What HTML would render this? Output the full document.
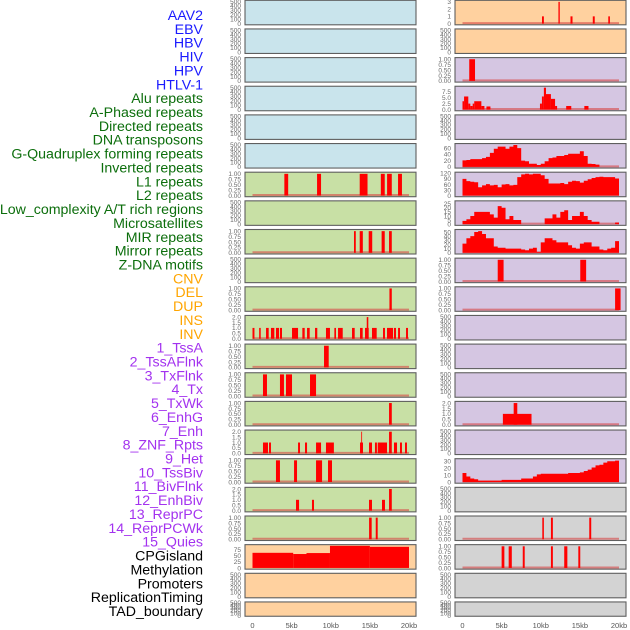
<!DOCTYPE html>
<html><head><meta charset="utf-8"><style>
html,body{margin:0;padding:0;background:#fff;}
svg{display:block;font-family:"Liberation Sans",sans-serif;}
</style></head><body>
<svg id="chart" width="630" height="630" viewBox="0 0 630 630" xmlns="http://www.w3.org/2000/svg"></svg>
<script>
const NS="http://www.w3.org/2000/svg";
const labelNames=["AAV2","EBV","HBV","HIV","HPV","HTLV-1","Alu repeats","A-Phased repeats","Directed repeats","DNA transposons","G-Quadruplex forming repeats","Inverted repeats","L1 repeats","L2 repeats","Low_complexity A/T rich regions","Microsatellites","MIR repeats","Mirror repeats","Z-DNA motifs","CNV","DEL","DUP","INS","INV","1_TssA","2_TssAFlnk","3_TxFlnk","4_Tx","5_TxWk","6_EnhG","7_Enh","8_ZNF_Rpts","9_Het","10_TssBiv","11_BivFlnk","12_EnhBiv","13_ReprPC","14_ReprPCWk","15_Quies","CPGisland","Methylation","Promoters","ReplicationTiming","TAD_boundary"];
const labelColors=[...Array(6).fill("#1a1aff"),...Array(13).fill("#0c6e0c"),...Array(5).fill("#ffa500"),...Array(15).fill("#a332ef"),...Array(5).fill("#000")];
const xTicks=[0,5,10,15,20];
const xTickLabels=["0","5kb","10kb","15kb","20kb"];
// bar data: [startKb, endKb, value]
const L6=[[4.07,4.56,1],[8.25,8.76,1],[13.7,14.7,1],[16.4,16.9,1],[17.2,17.8,1],[18.6,19.1,1]];
const L8=[[12.97,13.2,1],[13.7,14.1,1],[14.85,15.3,1],[16.5,16.9,1],[17.45,17.8,1]];
const L10=[[17.5,17.8,1]];
const L11=[[0,0.25,1],[0.85,1.05,1],[1.73,2.07,1],[2.36,2.79,1],[3.0,3.39,1],[3.51,3.77,1],[5.05,5.82,1],[6.37,6.67,1],[6.97,7.31,1],[7.99,8.28,1],[9.39,9.9,1],[10.46,10.67,1],[10.93,11.53,1],[12.72,13.06,1],[13.74,14.08,1],[14.38,14.85,1],[14.6,14.8,2],[15.27,15.87,1],[16.68,16.93,1],[17.19,17.96,1],[18.08,18.34,1],[18.6,18.85,1],[19.62,19.87,1]];
const L12=[[9.14,9.74,1]];
const L13=[[1.34,1.85,1],[3.51,4.02,1],[4.28,5.05,1],[7.35,8.12,1]];
const L14=[[17.45,17.8,1]];
const L15=[[1.34,1.98,1],[2.11,2.36,1],[5.82,6.07,1],[6.71,6.97,1],[8.12,8.76,1],[9.39,10.4,1],[13.74,14.12,1],[13.9,14.0,2],[14.89,15.27,1],[15.65,15.9,1],[16.0,17.19,1],[17.45,17.8,2],[18.08,18.47,1],[18.85,19.1,1],[19.49,19.74,1]];
const L16=[[3.0,3.51,1],[5.31,5.69,1],[8.12,8.89,1],[9.65,10.16,1]];
const L17=[[5.56,5.95,1],[7.6,7.86,1],[14.89,15.27,1],[16.55,16.93,1],[17.45,17.8,2]];
const L18=[[14.9,15.23,1],[15.75,16.0,1]];
const L19=[[0,5.2,63],[5.2,6.9,58],[6.9,9.9,62],[9.9,15,92],[15,20,88]];
const R0=[[10.16,10.4,1],[12.26,12.43,3],[13.8,14.06,1],[16.65,16.9,1],[18.63,18.84,1]];
const R2=[[0.86,1.6,1]];
const R3=[[0,0.2,3.5],[0.2,0.74,5.5],[0.74,1.0,2.5],[1.0,1.3,1.5],[1.3,1.5,2.5],[1.5,2.41,3.5],[2.41,2.8,1.5],[3.06,3.57,1.3],[9.9,10.15,2.5],[10.15,10.4,5.5],[10.4,10.67,9.2],[10.67,11.3,6.5],[11.3,11.83,4.5],[11.83,12.09,1.5],[13.25,13.9,1.5],[15.57,16.1,1.5]];
const R9=[[4.5,5.25,1],[15.05,15.8,1]];
const R10=[[19.5,20.2,1]];
const R14=[[5.16,8.82,1],[6.54,7.0,2]];
const R18=[[10.2,10.4,1],[11.3,11.55,1],[16.2,16.45,1]];
const R19=[[5.0,5.35,1],[5.9,6.3,1],[7.7,7.95,1],[11.3,11.55,1],[13.0,13.4,1],[14.8,15.05,1]];
// profile data: 0.5kb bins from 0kb
const R5=[21,22,25,25,25,28,32,45,58,65,65,58,65,70,60,20,18,10,10,6,10,18,28,30,35,35,38,42,42,42,50,35,10,9,7,0,0,0,0,0];
const R6=[90,78,75,72,45,55,62,55,58,45,60,62,55,58,100,115,118,115,118,118,110,90,65,65,65,68,62,75,80,78,70,80,88,95,100,102,100,100,100,92];
const R7=[4,6,10,15,15,15,15,12,8,22,20,6,10,5,5,0,0,0,0,0,0,7,7,12,8,15,17,5,10,10,15,10,5,3,3,0,0,0,0,2];
const R8=[22,35,40,50,52,45,35,35,15,12,12,10,10,10,10,8,6,10,12,2,25,35,35,30,25,25,25,18,12,10,22,25,25,15,15,8,6,10,12,28];
const R16=[13,8,5,4,2,2,2,2,2,2,3,3,3,3,3,5,5,5,8,11,12,12,12,12,12,12,12,13,13,13,14,16,18,21,24,25,28,30,30,31];
const tEmpty=[0,100,200,300,400,500], tUnit=[0,0.25,0.5,0.75,1], tTwo=[0,0.5,1,1.5,2];
const C={blue:"#c9e4ec",peach:"#ffd19f",lav:"#d5c6e2",green:"#c8e0a5",gray:"#d3d3d3"};
const panels=[];
for(let r=0;r<22;r++){
  const lb=r<6?C.blue:(r<19?C.green:C.peach);
  const rb=r<2?C.peach:(r<17?C.lav:C.gray);
  panels.push({col:0,row:r,bg:lb,ticks:tEmpty,ymax:500,bars:null,prof:null,fmt:0});
  panels.push({col:1,row:r,bg:rb,ticks:tEmpty,ymax:500,bars:null,prof:null,fmt:0});
}
function setP(col,row,o){const p=panels.find(q=>q.col===col&&q.row===row);Object.assign(p,o);}
const U={ticks:tUnit,ymax:1.02,fmt:2}, T2={ticks:tTwo,ymax:2.04,fmt:1};
setP(0,6,{...U,bars:L6});setP(0,8,{...U,bars:L8});setP(0,10,{...U,bars:L10});
setP(0,11,{...T2,bars:L11});setP(0,12,{...U,bars:L12});setP(0,13,{...U,bars:L13});
setP(0,14,{...U,bars:L14});setP(0,15,{...T2,bars:L15});setP(0,16,{...U,bars:L16});
setP(0,17,{...T2,bars:L17});setP(0,18,{...U,bars:L18});
setP(0,19,{ticks:[0,25,50,75],ymax:92,fmt:0,bars:L19,nobase:true});
setP(1,0,{ticks:[0,1,2,3],ymax:3.05,fmt:0,bars:R0});
setP(1,2,{...U,bars:R2});
setP(1,3,{ticks:[0,2.5,5,7.5],ymax:9.3,fmt:1,bars:R3});
setP(1,5,{ticks:[0,20,40,60],ymax:71,fmt:0,prof:R5});
setP(1,6,{ticks:[0,30,60,90,120],ymax:120,fmt:0,prof:R6});
setP(1,7,{ticks:[0,5,10,15,20,25],ymax:27,fmt:0,prof:R7});
setP(1,8,{ticks:[0,10,20,30,40,50],ymax:53,fmt:0,prof:R8});
setP(1,9,{...U,bars:R9});setP(1,10,{...U,bars:R10});
setP(1,14,{...T2,bars:R14});
setP(1,16,{ticks:[0,10,20,30],ymax:32,fmt:0,prof:R16});
setP(1,18,{...U,bars:R18});setP(1,19,{...U,bars:R19});

const svg=document.getElementById("chart");
function mk(tag,attrs,parent){const e=document.createElementNS(NS,tag);for(const k in attrs)e.setAttribute(k,attrs[k]);(parent||svg).appendChild(e);return e;}
labelNames.forEach((n,i)=>{
  const t=mk("text",{x:203,y:20+i*13.86,"text-anchor":"end","font-size":"14.2",fill:labelColors[i]});
  
  
  t.textContent=n;
});
const colLeft=[245,455], pw=171;
function xScale(col,kb){return colLeft[col]+7.5+kb/20*156.5;}
panels.forEach(p=>{
  const top=p.row*28.65+0.3, h=p.row===21?14.3:24.5, bot=top+h, L=colLeft[p.col];
  const g=mk("g",{});
  
  
  const yS=v=>bot-1.2-v/p.ymax*(h-2.4);
  mk("rect",{x:L,y:top,width:pw,height:h,fill:p.bg},g);
  if(p.bars||p.prof){
    if(!p.nobase){
      const bl=mk("line",{x1:xScale(p.col,0),x2:xScale(p.col,20),y1:yS(0)-0.5,y2:yS(0)-0.5,stroke:"rgba(215,70,70,0.6)","stroke-width":2},g);
      
      
    }
    if(p.bars){
      p.bars.forEach(b=>{
        const x1=xScale(p.col,b[0]),x2=xScale(p.col,Math.min(b[1],20.3));
        const r=mk("rect",{x:x1,y:yS(b[2]),width:Math.max(x2-x1,0.8),height:yS(0)-yS(b[2]),fill:"#ff0000"},g);
        
        
      });
    } else {
      let d="M"+xScale(p.col,0)+","+yS(0);
      p.prof.forEach((v,i)=>{
        d+=" L"+xScale(p.col,i*0.5)+","+yS(v)+" L"+xScale(p.col,i*0.5+0.5)+","+yS(v);
      });
      d+=" L"+xScale(p.col,p.prof.length*0.5)+","+yS(0)+" Z";
      const pa=mk("path",{d:d,fill:"#ff0000"},g);
      
      
    }
  }
  mk("rect",{x:L,y:top,width:pw,height:h,fill:"none",stroke:"#5f5f5f","stroke-width":1.1},g);
  const ty=p.row===21?(v=>bot-0.5-v/p.ymax*(h-1)):yS;
  p.ticks.forEach(v=>{
    const t=mk("text",{x:L-4,y:ty(v)+2.3,"text-anchor":"end","font-size":"6.5",fill:"#6a6a6a"},g);
    
    
    t.textContent=p.fmt?v.toFixed(p.fmt):String(v);
  });
});
[0,1].forEach(col=>{
  xTicks.forEach((k,i)=>{
    const t=mk("text",{x:xScale(col,k),y:628,"text-anchor":"middle","font-size":"7.5",fill:"#555"});
    
    
    t.textContent=xTickLabels[i];
  });
});
</script>
</body></html>
